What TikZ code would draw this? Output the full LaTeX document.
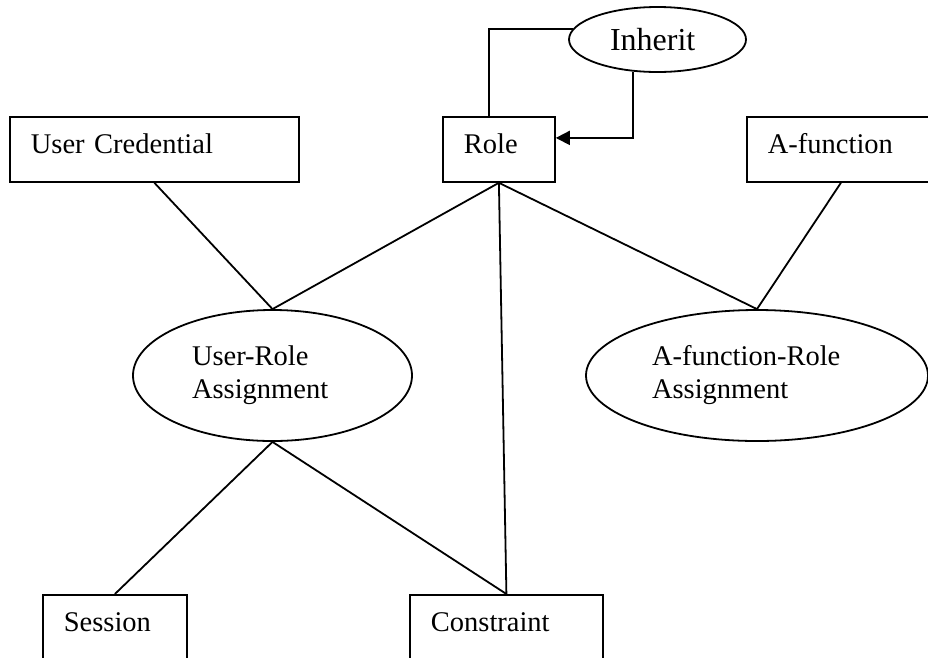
\documentclass[tikz,border=0pt]{standalone}
\usepackage{fontspec}
\setmainfont{Liberation Serif}
\usetikzlibrary{shapes.geometric,arrows.meta,calc}

\tikzset{
  box/.style={draw, rectangle, line width=1.8pt, anchor=north west,
    minimum height=65pt, inner xsep=21pt, inner ysep=0pt,
    text height=19pt, text depth=10pt, align=left,
    font=\fontsize{28.5}{33}\selectfont},
  oval/.style={draw, ellipse, line width=1.8pt, inner sep=0pt, align=left,
    font=\fontsize{28.5}{33}\selectfont},
  link/.style={line width=1.8pt},
}

\begin{document}
\begin{tikzpicture}[x=1pt, y=-1pt]
  \clip (0,0) rectangle (928,657);

  % entity boxes
  \node[box, text width=247pt] (uc)   at (9,116)   {User Credential};
  \node[box, text width=70pt]  (role) at (442,116) {Role};
  \node[box, text width=146pt] (af)   at (746,116) {A-function};
  \node[box, text width=102pt] (ses)  at (42,594)  {Session};
  \node[box, text width=151pt] (con)  at (409,594) {Constraint};

  % relationship ellipses
  \node[oval, minimum width=177pt, minimum height=65pt, text width=95pt,
        font=\fontsize{32}{38}\selectfont] (inh) at (657.5,39.5) {Inherit};
  \node[oval, minimum width=279pt, minimum height=131pt, text width=161pt]
        (ur) at (272.5,375.5) {User-Role\\Assignment};
  \node[oval, minimum width=342pt, minimum height=131pt, text width=210pt]
        (afr) at (757,375.5) {A-function-Role\\Assignment};

  % connectors
  \draw[link] (uc.south)   -- (ur.north);
  \draw[link] (role.south) -- (ur.north);
  \draw[link] (role.south) -- (con.north);
  \draw[link] (role.south) -- (afr.north);
  \draw[link] (af.south)   -- (afr.north);
  \draw[link] (ur.south)   -- (ses.north);
  \draw[link] (ur.south)   -- (con.north);

  % inheritance loop on Role
  \coordinate (up)  at ($(role.north west)+(47,0)$);
  \coordinate (hit) at ($(role.east)+(0,-11.5)$);
  \draw[link] (inh.173) -| (up);
  \draw[link, -{Triangle[length=14pt, width=14pt]}] (inh.233) |- (hit);
\end{tikzpicture}
\end{document}
